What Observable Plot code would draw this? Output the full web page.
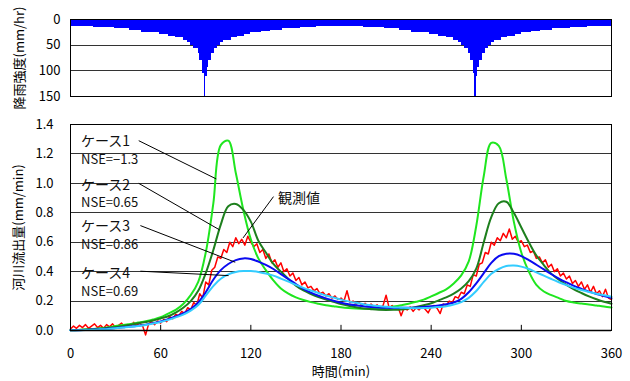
<!DOCTYPE html>
<html><head><meta charset="utf-8">
<script src="https://cdn.jsdelivr.net/npm/d3@7"></script>
<script src="https://cdn.jsdelivr.net/npm/@observablehq/plot@0.6"></script>
<style>
body{margin:0;background:#fff;}
#chart{width:630px;height:381px;overflow:hidden;}
#chart svg{display:block;overflow:visible;}
</style></head><body><div id="chart"></div>
<script>
// ---- rainfall (mm/hr) as steps: start minute and intensity ----
const rainStart = [0,15,29,39,47,53,59,65,70,75,78,80,82,85,86,88,89,90,91,92,94,96,98,100,102,107,111,116,120,127,133,141,153,164,
  180,195,209,219,227,233,239,245,250,255,258,260,262,265,266,268,269,270,271,272,274,276,278,280,282,287,291,296,300,307,313,321,333,344];
const rainValue = [14,16,18,22,25,26,29,33,36,40,44,50,57,66,80,106,150,112,93,80,66,57,50,45,40,36,33,29,26,23,21,18,16,14,
  14,16,18,22,25,26,29,33,36,40,44,50,57,66,80,106,150,112,93,80,66,57,50,45,40,36,33,29,26,23,21,18,16,14];
const rainEndTime = 360;

// ---- simulated runoff (mm/min), every 5 min from 0 to 360 ----
const simTime = d3.range(0, 361, 5);
const case1 = [0.002,0.004,0.007,0.011,0.016,0.022,0.03,0.037,0.045,0.054,
  0.063,0.075,0.09,0.115,0.14,0.18,0.24,0.33,0.53,0.86,
  1.26,1.29,1.07,0.82,0.62,0.49,0.41,0.34,0.285,0.25,
  0.225,0.207,0.193,0.182,0.172,0.165,0.158,0.153,0.15,0.148,
  0.148,0.15,0.155,0.163,0.172,0.182,0.195,0.21,0.232,0.255,
  0.28,0.32,0.375,0.47,0.71,1.05,1.275,1.255,1.03,0.74,
  0.53,0.40,0.31,0.265,0.24,0.22,0.2,0.19,0.183,0.177,
  0.17,0.163,0.157];
const case2 = [0.003,0.004,0.006,0.009,0.013,0.018,0.024,0.031,0.04,0.049,
  0.058,0.068,0.082,0.097,0.122,0.155,0.2,0.27,0.39,0.545,
  0.72,0.845,0.86,0.82,0.74,0.61,0.53,0.452,0.40,0.35,
  0.305,0.272,0.248,0.227,0.21,0.195,0.18,0.168,0.158,0.15,
  0.145,0.141,0.14,0.141,0.143,0.15,0.16,0.172,0.185,0.205,
  0.225,0.25,0.285,0.335,0.42,0.60,0.77,0.865,0.875,0.80,
  0.70,0.60,0.51,0.445,0.385,0.345,0.31,0.28,0.255,0.232,
  0.212,0.195,0.182];
const case3 = [0.001,0.002,0.004,0.006,0.009,0.013,0.017,0.022,0.027,0.033,
  0.04,0.05,0.062,0.077,0.095,0.117,0.145,0.19,0.26,0.345,
  0.41,0.452,0.478,0.49,0.486,0.468,0.446,0.418,0.383,0.35,
  0.315,0.283,0.257,0.236,0.218,0.202,0.189,0.179,0.171,0.165,
  0.16,0.156,0.154,0.153,0.154,0.155,0.157,0.16,0.164,0.17,
  0.178,0.19,0.215,0.26,0.32,0.39,0.46,0.505,0.522,0.522,
  0.506,0.478,0.447,0.415,0.383,0.353,0.327,0.303,0.283,0.264,
  0.248,0.234,0.22];
const case4 = [0.001,0.002,0.003,0.005,0.008,0.011,0.015,0.02,0.025,0.031,
  0.038,0.047,0.058,0.072,0.089,0.108,0.135,0.173,0.237,0.302,
  0.352,0.382,0.398,0.404,0.404,0.398,0.387,0.373,0.353,0.332,
  0.31,0.29,0.272,0.255,0.238,0.224,0.21,0.198,0.188,0.179,
  0.172,0.166,0.161,0.157,0.155,0.153,0.152,0.153,0.155,0.159,
  0.165,0.176,0.193,0.222,0.268,0.33,0.385,0.418,0.438,0.442,
  0.434,0.418,0.395,0.373,0.35,0.328,0.308,0.29,0.275,0.262,
  0.25,0.24,0.23];

// ---- observed runoff (mm/min), every 2 min from 0 to 360 ----
const obsTime = d3.range(0, 361, 2);
const observed = [0.01,0.03,0.015,0.035,0.02,0.04,0.015,0.03,0.045,0.02,
  0.035,0.015,0.04,0.025,0.045,0.02,0.035,0.05,0.025,0.04,
  0.03,0.055,0.035,0.05,0.03,-0.03,0.045,0.06,0.04,0.065,
  0.05,0.075,0.06,0.095,0.08,0.11,0.1,0.13,0.115,0.155,
  0.14,0.19,0.17,0.25,0.22,0.33,0.31,0.41,0.43,0.5,
  0.49,0.55,0.53,0.6,0.57,0.63,0.59,0.62,0.58,0.64,
  0.6,0.57,0.59,0.53,0.55,0.49,0.52,0.46,0.48,0.43,
  0.46,0.4,0.42,0.37,0.39,0.34,0.36,0.31,0.33,0.29,
  0.3,0.27,0.285,0.25,0.26,0.235,0.25,0.22,0.235,0.21,
  0.22,0.2,0.27,0.19,0.2,0.18,0.19,0.17,0.185,0.165,
  0.18,0.16,0.175,0.155,0.17,0.24,0.155,0.17,0.145,0.16,
  0.1,0.155,0.14,0.16,0.13,0.155,0.14,0.165,0.145,0.12,
  0.16,0.17,0.15,0.115,0.18,0.17,0.2,0.19,0.23,0.22,
  0.26,0.25,0.31,0.3,0.38,0.37,0.45,0.46,0.53,0.52,
  0.6,0.58,0.63,0.61,0.66,0.63,0.69,0.62,0.64,0.6,
  0.61,0.57,0.58,0.53,0.54,0.49,0.5,0.46,0.48,0.43,
  0.45,0.4,0.42,0.37,0.39,0.35,0.37,0.32,0.34,0.3,
  0.33,0.28,0.31,0.26,0.3,0.25,0.27,0.23,0.28,0.22,
  0.21];

// ---- ticks and labels ----
const xTicks = [0,60,120,180,240,300,360];
const yTicksRain = [0,50,100,150];
const yTicksFlow = [0,0.2,0.4,0.6,0.8,1.0,1.2,1.4];
const seriesNames = ["ケース1","ケース2","ケース3","ケース4"];
const nseLabels = ["NSE=−1.3","NSE=0.65","NSE=0.86","NSE=0.69"];
const obsName = "観測値";
const rainTitle = "降雨強度(mm/hr)";
const flowTitle = "河川流出量(mm/min)";
const timeTitle = "時間(min)";

const FONT = "'Noto Sans CJK JP','Noto Sans',sans-serif";
const colors = {case1:"#1fe61f", case2:"#1d7f1d", obs:"#ff0000", case3:"#0a0af0", case4:"#33ccff"};

// build tables
const rain = rainStart.map((s,i)=>({x1:s, x2: i+1<rainStart.length ? rainStart[i+1] : rainEndTime, v:rainValue[i]}));
const sims = [case1,case2,case3,case4];
const simRows = sims.map(arr => simTime.map((t,i)=>({t, v:arr[i]})));
const obsRows = obsTime.map((t,i)=>({t, v:observed[i]}));

// annotation layout (data coordinates)
const labelRows = [
  {t:7, v:1.283, text:seriesNames[0], size:14}, {t:7, v:1.16, text:nseLabels[0], size:13},
  {t:7, v:0.988, text:seriesNames[1], size:14}, {t:7, v:0.865, text:nseLabels[1], size:13},
  {t:7, v:0.708, text:seriesNames[2], size:14}, {t:7, v:0.58, text:nseLabels[2], size:13},
  {t:7, v:0.387, text:seriesNames[3], size:14}, {t:7, v:0.26, text:nseLabels[3], size:13},
  {t:138, v:0.896, text:obsName, size:14}
];
const leaders = [
  {x1:45.4, y1:1.29, x2:97, y2:1.03},
  {x1:45.4, y1:1.0, x2:99.2, y2:0.684},
  {x1:46.5, y1:0.713, x2:109.6, y2:0.464},
  {x1:46.5, y1:0.403, x2:105.2, y2:0.373},
  {x1:135.1, y1:0.91, x2:114.8, y2:0.629}
];

const topChart = Plot.plot({
  width:630, height:110,
  marginLeft:70, marginRight:19, marginTop:19, marginBottom:14,
  style:{fontFamily:FONT, fontSize:"13px", color:"#000", background:"#fff", overflow:"visible"},
  x:{domain:[0,360], axis:null},
  y:{domain:[0,150], reverse:true, ticks:yTicksRain, tickSize:0, tickPadding:10, label:null},
  marks:[
    Plot.ruleY(yTicksRain.slice(1,-1), {stroke:"#333", shapeRendering:"crispEdges"}),
    Plot.rect(rain, {x1:"x1", x2:"x2", y1:0, y2:"v", fill:"#0000ff", shapeRendering:"crispEdges"}),
    Plot.frame({stroke:"#000", shapeRendering:"crispEdges"}),
    Plot.text([rainTitle], {text:d=>d, frameAnchor:"left", textAnchor:"middle", dx:-51, rotate:-90, fontSize:13, fill:"#000"})
  ]
});

const bottomChart = Plot.plot({
  width:630, height:271,
  marginLeft:70, marginRight:19, marginTop:14, marginBottom:51,
  style:{fontFamily:FONT, fontSize:"13px", color:"#000", background:"#fff", overflow:"visible"},
  x:{domain:[0,360], ticks:xTicks, tickSize:0, tickPadding:18, label:null},
  y:{domain:[0,1.4], ticks:yTicksFlow, tickFormat:d3.format(".1f"), tickSize:0, tickPadding:17, label:null},
  marks:[
    Plot.ruleY(yTicksFlow.slice(1,-1), {stroke:"#333", shapeRendering:"crispEdges"}),
    Plot.ruleX(xTicks.slice(1,-1), {y1:0, y2:0.035, stroke:"#000"}),
    Plot.line(obsRows, {x:"t", y:"v", stroke:colors.obs, strokeWidth:1.5}),
    Plot.line(simRows[0], {x:"t", y:"v", stroke:colors.case1, strokeWidth:2, curve:"catmull-rom"}),
    Plot.line(simRows[1], {x:"t", y:"v", stroke:colors.case2, strokeWidth:2, curve:"catmull-rom"}),
    Plot.line(simRows[2], {x:"t", y:"v", stroke:colors.case3, strokeWidth:2, curve:"catmull-rom"}),
    Plot.line(simRows[3], {x:"t", y:"v", stroke:colors.case4, strokeWidth:2, curve:"catmull-rom"}),
    Plot.link(leaders, {x1:"x1", y1:"y1", x2:"x2", y2:"y2", stroke:"#000", strokeWidth:1}),
    Plot.text(labelRows, {x:"t", y:"v", text:"text", fontSize:d=>d.size, textAnchor:"start", fill:"#111"}),
    Plot.ruleY([0], {stroke:"#000", strokeWidth:1.5}),
    Plot.frame({stroke:"#000", shapeRendering:"crispEdges"}),
    Plot.text([flowTitle], {text:d=>d, frameAnchor:"left", textAnchor:"middle", dx:-52, rotate:-90, fontSize:13, fill:"#000"}),
    Plot.text([timeTitle], {text:d=>d, frameAnchor:"bottom", dy:45, fontSize:13, fill:"#000"})
  ]
});

const el = document.getElementById("chart");
el.appendChild(topChart);
el.appendChild(bottomChart);
</script></body></html>
